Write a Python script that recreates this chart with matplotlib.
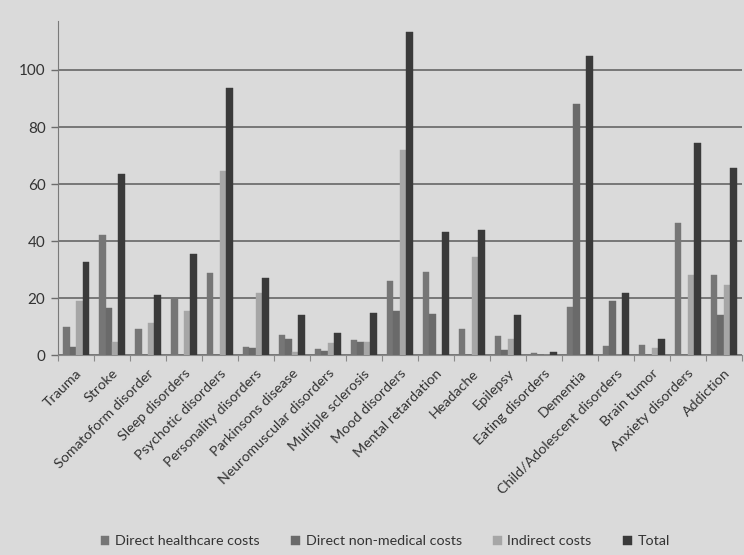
import numpy as np
import matplotlib
matplotlib.use("Agg")
import matplotlib.pyplot as plt
from matplotlib.transforms import offset_copy

plt.rcParams['font.family'] = ['Lato', 'DejaVu Sans']

categories = [
    "Trauma", "Stroke", "Somatoform disorder", "Sleep disorders",
    "Psychotic disorders", "Personality disorders", "Parkinsons disease",
    "Neuromuscular disorders", "Multiple sclerosis", "Mood disorders",
    "Mental retardation", "Headache", "Epilepsy", "Eating disorders",
    "Dementia", "Child/Adolescent disorders", "Brain tumor",
    "Anxiety disorders", "Addiction",
]

direct_healthcare = [9.9, 42.2, 9.3, 20.0, 29.0, 3.1, 7.2, 2.2, 5.3, 26.2,
                     29.4, 9.2, 6.8, 1.0, 17.1, 3.4, 3.8, 46.5, 28.2]
direct_non_medical = [3.1, 16.5, 0.0, 0.0, 0.0, 2.7, 5.7, 1.7, 4.6, 15.7,
                      14.4, 0.0, 1.9, 0.2, 88.1, 19.2, 0.0, 0.0, 14.2]
indirect = [19.2, 4.8, 11.5, 15.6, 64.7, 21.8, 1.3, 4.5, 4.8, 72.0,
            0.0, 34.6, 5.7, 0.1, 0.0, 0.0, 2.5, 28.2, 24.7]
total = [32.6, 63.6, 21.2, 35.4, 93.6, 27.3, 14.0, 7.9, 15.0, 113.2,
         43.4, 44.0, 14.2, 1.3, 105.0, 21.8, 5.7, 74.3, 65.8]

series_names = ["Direct healthcare costs", "Direct non-medical costs",
                "Indirect costs", "Total"]
series_values = [direct_healthcare, direct_non_medical, indirect, total]
series_colors = ["#767676", "#6a6a6a", "#a6a6a6", "#3a3a3a"]

bg = "#dadada"
fig = plt.figure(figsize=(7.44, 5.55), dpi=100, facecolor=bg)
ax = fig.add_axes([0.078, 0.3595, 0.919, 0.602], facecolor=bg)

x = np.arange(len(categories))
bar_w = 0.18
for i, (name, vals, col) in enumerate(zip(series_names, series_values, series_colors)):
    ax.bar(x + (i - 1.5) * bar_w, vals, width=bar_w, color=col,
           edgecolor=col, linewidth=0.3, label=name, zorder=3)

ax.set_xlim(-0.5, len(categories) - 0.5)
ax.set_ylim(0, 117)
ax.set_yticks([0, 20, 40, 60, 80, 100])
ax.yaxis.grid(True, color="#666666", linewidth=1.2, zorder=1)
ax.tick_params(axis="y", length=5, width=1.0, color="#6c6c6c",
               labelsize=11, labelcolor="#333333", pad=4)

# category boundary ticks on the x axis
ax.set_xticks(np.arange(-0.5, len(categories) + 0.5, 1.0))
ax.set_xticklabels([])
ax.tick_params(axis="x", length=4, width=0.8, color="#8a8a8a")

for s in ["top", "right"]:
    ax.spines[s].set_visible(False)
ax.spines["left"].set_color("#7a7a7a")
ax.spines["bottom"].set_color("#8a8a8a")

# rotated category labels, ending at the category centre
lab_tr = offset_copy(ax.get_xaxis_transform(), fig=fig, x=4, y=-16, units="dots")
for xi, name in zip(x, categories):
    ax.text(xi, 0, name, transform=lab_tr, rotation=45, rotation_mode="anchor",
            ha="right", va="center", fontsize=10.3, color="#333333")

fig.legend(loc="center", bbox_to_anchor=(0.518, 0.025), ncol=4, frameon=False,
           fontsize=10.3, handlelength=0.6, handleheight=0.6, handletextpad=0.4,
           columnspacing=2.2, labelcolor="#333333")

fig.savefig("out.png", dpi=100, facecolor=bg)
